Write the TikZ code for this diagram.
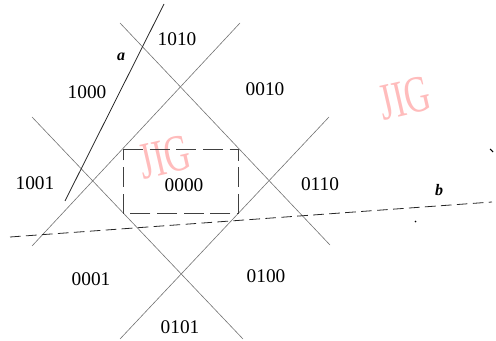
\documentclass[tikz,border=0pt]{standalone}
\usepackage{fontspec}
\setmainfont{Liberation Serif}
\newfontfamily\markfont[FakeStretch=0.68]{Liberation Serif}
\usepackage{tikz}

\definecolor{markpink}{RGB}{255,188,188}
\tikzset{
  regionlabel/.style={inner sep=0.75pt,font=\fontsize{14.5}{16}\selectfont},
  edgeline/.style={draw=black!55,line width=0.45pt},
  cutline/.style={draw=black!85,line width=0.6pt},
  watermark/.style={inner sep=0pt,text=markpink,font=\markfont\fontsize{39}{39}\selectfont,rotate=13}
}

\begin{document}
\begin{tikzpicture}[x=0.75pt,y=0.75pt,yscale=-1,xscale=1]
\useasboundingbox (0,0) rectangle (496,341);

% Watermarks
\node[watermark] (jigleft) at (165,157) {JIG};
\node[watermark] (jigright) at (405,98) {JIG};

% Window corners
\coordinate (wtl) at (123,149);
\coordinate (wtr) at (238,149);
\coordinate (wbr) at (238,213);
\coordinate (wbl) at (123,213);

% Diagonal boundaries
\draw[edgeline] (120,23) -- (330,245);
\draw[edgeline] (240,23) -- (32,246);
\draw[edgeline] (329,117) -- (120,339);
\draw[edgeline] (32,117) -- (243,339);

% Window
\draw[black!75,line width=0.6pt,dash pattern=on 15pt off 5pt] (wtl) -- (wtr) -- (wbr) -- (wbl) -- cycle;

% Line a
\coordinate (a1) at (164,4);
\coordinate (a2) at (65,201);
\draw[cutline] (a1) -- (a2);
\node[inner sep=0.75pt,font=\fontsize{12}{12}\selectfont\itshape\bfseries] (alab) at (121,57) {a};

% Line b
\coordinate (b1) at (10,237);
\coordinate (b2) at (492,202);
\draw[cutline,dash pattern=on 8pt off 4pt] (b1) -- (b2);
\node[inner sep=0.75pt,font=\fontsize{12}{12}\selectfont\itshape\bfseries] (blab) at (439,190) {b};

% Specks
\draw[black,line width=1pt] (415,221) -- (416,222);
\draw[black,line width=0.8pt] (490,149) -- (493,152);

% Region codes
\node[regionlabel] (c1010) at (177,39) {1010};
\node[regionlabel] (c1000) at (87,92) {1000};
\node[regionlabel] (c0010) at (265,89) {0010};
\node[regionlabel] (c1001) at (35,183) {1001};
\node[regionlabel] (c0000) at (184,185) {0000};
\node[regionlabel] (c0110) at (320,184) {0110};
\node[regionlabel] (c0001) at (91,279) {0001};
\node[regionlabel] (c0100) at (266,276) {0100};
\node[regionlabel] (c0101) at (180,327) {0101};

\end{tikzpicture}
\end{document}
